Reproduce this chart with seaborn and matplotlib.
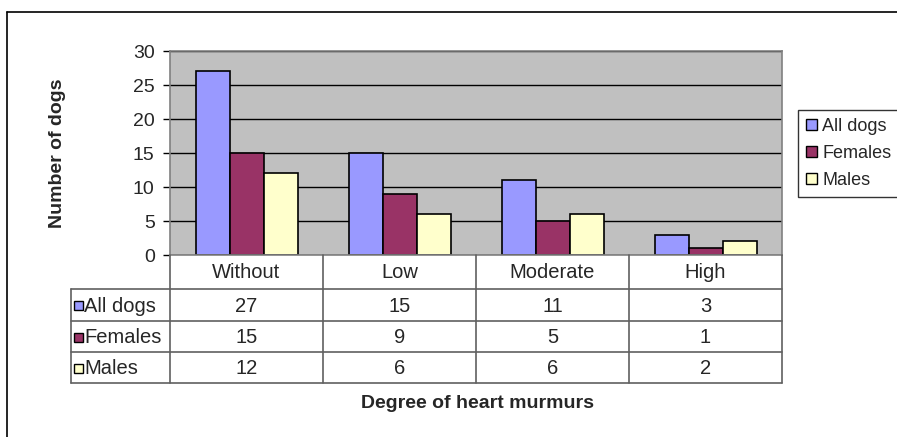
import numpy as np
import pandas as pd
import matplotlib
matplotlib.use("Agg")
import matplotlib.pyplot as plt
from matplotlib.lines import Line2D
from matplotlib.patches import Rectangle
import seaborn as sns

# data
categories = ["Without", "Low", "Moderate", "High"]
series = ["All dogs", "Females", "Males"]
all_dogs = [27, 15, 11, 3]
females = [15, 9, 5, 1]
males = [12, 6, 6, 2]
colors = ["#9999FF", "#993366", "#FFFFCC"]

df = pd.DataFrame({
    "degree": categories * 3,
    "group": [s for s in series for _ in categories],
    "count": all_dogs + females + males,
})

sns.set_style("white")
plt.rcParams["font.family"] = ["Liberation Sans", "DejaVu Sans"]
plt.rcParams["font.size"] = 14

W, H = 897, 437
fig = plt.figure(figsize=(W / 100, H / 100), dpi=100)


def rect(x0, y0, x1, y1):
    # pixel box (top-left origin) -> figure fraction
    return [x0 / W, 1 - y1 / H, (x1 - x0) / W, (y1 - y0) / H]


# outer frame (only top and left visible)
fig.add_artist(Line2D([7 / W, 7 / W], [0, 1 - 12 / H], color="black", lw=1.2))
fig.add_artist(Line2D([7 / W, 1], [1 - 12 / H, 1 - 12 / H], color="black", lw=1.2))

# bar chart
ax = fig.add_axes(rect(170, 51, 782, 255))
sns.barplot(data=df, x="degree", y="count", hue="group", order=categories,
            hue_order=series, palette=colors, saturation=1, width=2 / 3,
            edgecolor="black", linewidth=1.2, ax=ax, legend=False)
ax.set_facecolor("#C0C0C0")
ax.set_xlim(-0.5, 3.5)
ax.set_ylim(0, 30)
ax.set_yticks(range(0, 31, 5))
ax.yaxis.grid(True, color="black", lw=1)
ax.set_axisbelow(True)
ax.set_xticks([])
ax.set_xlabel("")
ax.set_ylabel("")
for sp in ax.spines.values():
    sp.set_color("#808080")
    sp.set_linewidth(1.2)
ax.tick_params(axis="y", length=5, width=1, color="black", left=True,
               labelsize=14, pad=6)

fig.text(57 / W, 1 - 153 / H, "Number of dogs", rotation=90, ha="center",
         va="center", fontsize=14, fontweight="bold")
fig.text(477 / W, 1 - 403 / H, "Degree of heart murmurs", ha="center",
         va="center", fontsize=14, fontweight="bold")

# data table
tx = fig.add_axes(rect(71, 255, 782, 383))
tx.set_xlim(71, 782)
tx.set_ylim(383, 255)
tx.axis("off")
rows_y = [255, 289, 321, 352, 383]
cols_x = [71, 170, 323, 476, 629, 782]
lc = "#606060"
for x in cols_x[1:]:
    tx.plot([x, x], [255, 383], color=lc, lw=1.2, clip_on=False)
tx.plot([71, 71], [289, 383], color=lc, lw=1.2, clip_on=False)
for y in rows_y[1:]:
    tx.plot([71, 782], [y, y], color=lc, lw=1.2, clip_on=False)

for i, c in enumerate(categories):
    tx.text((cols_x[i + 1] + cols_x[i + 2]) / 2, 273, c, ha="center", va="center",
            fontsize=14.5)

table_vals = [all_dogs, females, males]
for r, (name, vals, col) in enumerate(zip(series, table_vals, colors)):
    yc = (rows_y[r + 1] + rows_y[r + 2]) / 2 + 1
    tx.add_patch(Rectangle((74, yc - 5), 9, 9, facecolor=col, edgecolor="black",
                           lw=1, clip_on=False))
    tx.text(84, yc, name, ha="left", va="center", fontsize=14.5)
    for i, v in enumerate(vals):
        tx.text((cols_x[i + 1] + cols_x[i + 2]) / 2, yc, str(v), ha="center",
                va="center", fontsize=14.5)

# legend
handles = [Rectangle((0, 0), 1, 1, facecolor=c, edgecolor="black", lw=1) for c in colors]
fig.legend(handles, series, loc="upper left", bbox_to_anchor=(798 / W, 1 - 110 / H),
           frameon=True, fancybox=False, edgecolor="black", fontsize=13,
           handlelength=0.6, handleheight=0.6, handletextpad=0.3,
           labelspacing=0.55, borderpad=0.45, borderaxespad=0)

fig.savefig("out.png", dpi=100)
